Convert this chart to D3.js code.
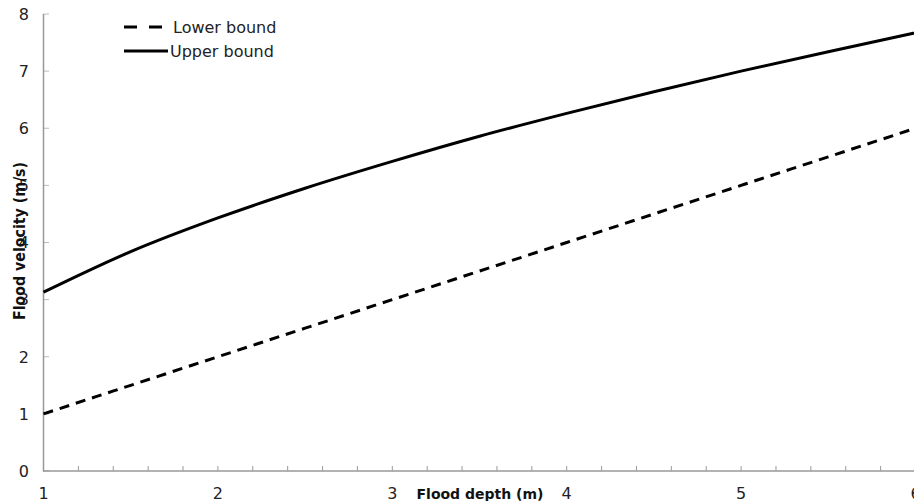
<!DOCTYPE html>
<html>
<head>
<meta charset="utf-8">
<script src="https://cdn.jsdelivr.net/npm/d3@7"></script>
<style>
html,body{margin:0;padding:0;background:#fff;}
svg{display:block;}
text{font-family:"DejaVu Sans",sans-serif;}
</style>
</head>
<body>
<svg id="chart" width="914" height="501"></svg>
<script>
const depth = [1, 1.5, 2, 2.5, 3, 3.5, 4, 4.5, 5, 5.5, 6];
const lowerBound = [1, 1.5, 2, 2.5, 3, 3.5, 4, 4.5, 5, 5.5, 6];
const upperBound = [3.13, 3.84, 4.43, 4.95, 5.42, 5.86, 6.26, 6.64, 7.0, 7.34, 7.67];
const xTicks = [1, 2, 3, 4, 5, 6];
const yTicks = [0, 1, 2, 3, 4, 5, 6, 7, 8];
const seriesNames = ["Lower bound", "Upper bound"];

const svg = d3.select("#chart");
const x = d3.scaleLinear().domain([1, 6]).range([43.5, 915.5]);
const y = d3.scaleLinear().domain([0, 8]).range([471, 14]);

// minor x ticks
const minorX = d3.range(1, 6.001, 0.2);
svg.append("g").selectAll("line").data(minorX).join("line")
  .attr("x1", d => x(d)).attr("x2", d => x(d))
  .attr("y1", 471).attr("y2", 466)
  .attr("stroke", "#999").attr("stroke-width", 1);

// y ticks (inside)
svg.append("g").selectAll("line").data(yTicks).join("line")
  .attr("x1", 43.5).attr("x2", 49)
  .attr("y1", d => y(d)).attr("y2", d => y(d))
  .attr("stroke", "#bbb").attr("stroke-width", 1);

// axes lines
svg.append("line").attr("x1", 43.5).attr("x2", 43.5).attr("y1", y(8)).attr("y2", 471.5)
  .attr("stroke", "#999").attr("stroke-width", 1.5);
svg.append("line").attr("x1", 43).attr("x2", 914).attr("y1", 471).attr("y2", 471)
  .attr("stroke", "#999").attr("stroke-width", 1.5);

// y labels
svg.append("g").selectAll("text").data(yTicks).join("text")
  .attr("x", 29).attr("y", d => y(d)).attr("dy", "0.36em")
  .attr("text-anchor", "end").attr("font-size", 16).attr("fill", "#222")
  .text(d => d);

// x labels
svg.append("g").selectAll("text").data(xTicks).join("text")
  .attr("x", d => x(d)).attr("y", 499)
  .attr("text-anchor", "middle").attr("font-size", 16).attr("fill", "#222")
  .text(d => d);

// axis titles
svg.append("text").attr("x", 480).attr("y", 499).attr("text-anchor", "middle")
  .attr("font-size", 14).attr("font-weight", "bold").attr("fill", "#111")
  .text("Flood depth (m)");
svg.append("text").attr("transform", "translate(25,241) rotate(-90)")
  .attr("text-anchor", "middle")
  .attr("font-size", 15).attr("font-weight", "bold").attr("fill", "#111")
  .attr("textLength", 158).attr("lengthAdjust", "spacingAndGlyphs")
  .text("Flood velocity (m/s)");

const line = d3.line().x(d => x(d[0])).y(d => y(d[1])).curve(d3.curveMonotoneX);
svg.append("path").datum(depth.map((d, i) => [d, lowerBound[i]]))
  .attr("d", line).attr("fill", "none").attr("stroke", "#000")
  .attr("stroke-width", 3).attr("stroke-dasharray", "10,7");
svg.append("path").datum(depth.map((d, i) => [d, upperBound[i]]))
  .attr("d", line).attr("fill", "none").attr("stroke", "#000")
  .attr("stroke-width", 3);

// legend
const leg = svg.append("g");
leg.append("line").attr("x1", 124).attr("x2", 164).attr("y1", 27).attr("y2", 27)
  .attr("stroke", "#000").attr("stroke-width", 3).attr("stroke-dasharray", "13,12");
leg.append("line").attr("x1", 124).attr("x2", 168).attr("y1", 51).attr("y2", 51)
  .attr("stroke", "#000").attr("stroke-width", 3);
leg.append("text").attr("x", 173).attr("y", 27).attr("dy", "0.36em")
  .attr("font-size", 16).attr("fill", "#222").text(seriesNames[0]);
leg.append("text").attr("x", 170).attr("y", 51).attr("dy", "0.36em")
  .attr("font-size", 16).attr("fill", "#222").text(seriesNames[1]);
</script>
</body>
</html>
